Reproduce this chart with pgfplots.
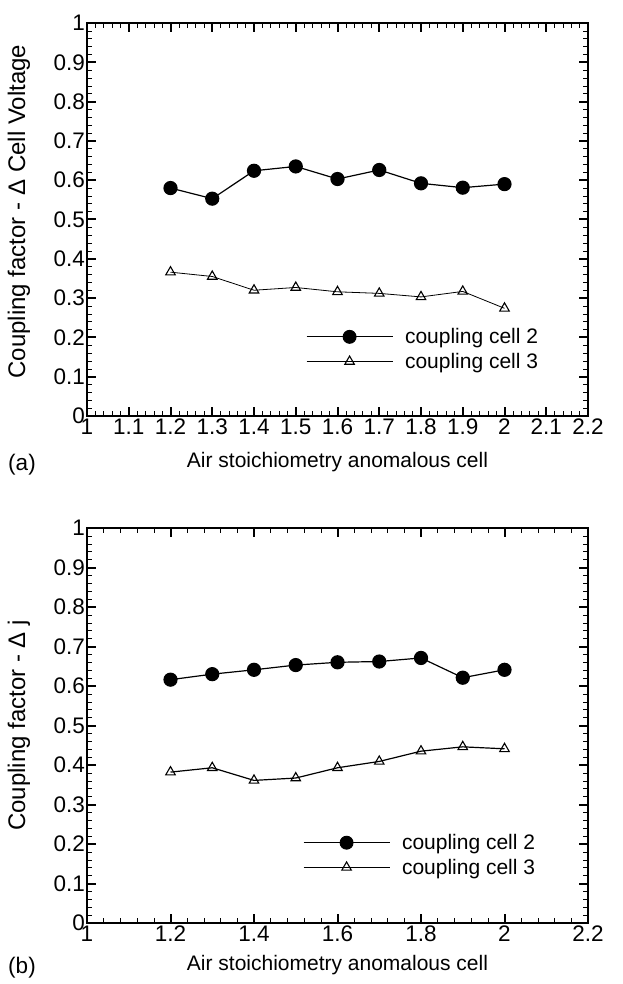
\documentclass[border=0pt]{standalone}
\usepackage{fontspec}
\setmainfont{Liberation Sans}
\usepackage{pgfplots}
\pgfplotsset{compat=1.18}

\newcommand{\fs}{\fontsize{21}{24}\selectfont}
\newcommand{\ft}{\fontsize{22.5}{26}\selectfont}
\pgfplotsset{
  mystyle/.style={
    scale only axis, width=501pt,
    xmin=1, xmax=2.2, ymin=0, ymax=1,
    ytick={0,0.1,0.2,0.3,0.4,0.5,0.6,0.7,0.8,0.9,1},
    minor y tick num=4, minor x tick num=4,
    tick align=inside,
    major tick length=9pt, minor tick length=5pt,
    every major tick/.append style={line width=2pt, black},
    every minor tick/.append style={line width=0.6pt, black},
    axis line style={line width=1.8pt},
    tick label style={font=\ft},
    xlabel style={font=\fontsize{21}{24}\selectfont},
    ylabel style={font=\fontsize{24}{28}\selectfont},
    /pgf/number format/assume math mode=true,
    xticklabel style={inner sep=0.5pt, yshift=-2pt},
    yticklabel style={inner sep=1pt, xshift=-1pt},
    legend cell align=left,
    legend image code/.code={\draw[mark repeat=2, mark phase=2, #1, line width=0.9pt] plot coordinates {(0pt,0pt) (43pt,0pt) (86pt,0pt)};},
    legend style={draw=none, fill=none, inner sep=0pt,
      font=\fs, row sep=4pt, column sep=10pt,
      nodes={inner sep=2pt}},
  },
  c2/.style={black, line width=1.2pt, mark=*, mark size=6.5pt, mark options={solid, fill=black}},
  c3/.style={black, line width=1.0pt, mark=triangle, mark size=5.5pt, mark options={solid, fill=white, line width=1.1pt}},
}

\begin{document}
\begin{tikzpicture}
\path[use as bounding box] (-87pt,-568pt) rectangle (536pt,416pt);

\begin{axis}[mystyle, height=393pt, at={(0pt,0pt)}, anchor=south west,
  xtick={1,1.1,1.2,1.3,1.4,1.5,1.6,1.7,1.8,1.9,2,2.1,2.2},
  xlabel={Air stoichiometry anomalous cell},
  xlabel style={at={(axis description cs:0.5,-0.117)}, anchor=center},
  ylabel={Coupling factor - Δ Cell Voltage},
  ylabel style={at={(axis description cs:-0.136,0.52)}, anchor=center},
  legend style={at={(axis description cs:0.437,0.170)}, anchor=west}]
\addplot[c2] coordinates {(1.2,0.580) (1.3,0.553) (1.4,0.624) (1.5,0.635) (1.6,0.603) (1.7,0.626) (1.8,0.592) (1.9,0.581) (2.0,0.590)};
\addlegendentry{coupling cell 2}
\addplot[c3, line width=0.8pt] coordinates {(1.2,0.366) (1.3,0.355) (1.4,0.320) (1.5,0.327) (1.6,0.316) (1.7,0.312) (1.8,0.303) (1.9,0.317) (2.0,0.274)};
\addlegendentry{coupling cell 3}
\end{axis}
\node[font=\ft] at (-65pt,-49pt) {(a)};

\begin{axis}[mystyle, height=395pt, at={(0pt,-507pt)}, anchor=south west,
  xtick={1,1.2,1.4,1.6,1.8,2,2.2},
  xlabel={Air stoichiometry anomalous cell},
  xlabel style={at={(axis description cs:0.5,-0.106)}, anchor=center},
  ylabel={Coupling factor - Δ j},
  ylabel style={at={(axis description cs:-0.136,0.5)}, anchor=center},
  legend style={at={(axis description cs:0.431,0.172)}, anchor=west}]
\addplot[c2] coordinates {(1.2,0.616) (1.3,0.630) (1.4,0.641) (1.5,0.653) (1.6,0.660) (1.7,0.662) (1.8,0.671) (1.9,0.621) (2.0,0.641)};
\addlegendentry{coupling cell 2}
\addplot[c3, line width=1.2pt] coordinates {(1.2,0.382) (1.3,0.393) (1.4,0.361) (1.5,0.367) (1.6,0.393) (1.7,0.409) (1.8,0.435) (1.9,0.446) (2.0,0.441)};
\addlegendentry{coupling cell 3}
\end{axis}
\node[font=\ft] at (-65pt,-552pt) {(b)};
\end{tikzpicture}
\end{document}
